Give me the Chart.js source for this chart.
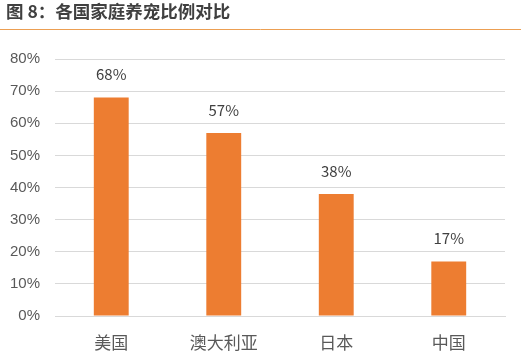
<!DOCTYPE html>
<html><head><meta charset="utf-8">
<script src="https://cdn.jsdelivr.net/npm/chart.js@4/dist/chart.umd.min.js"></script>
<style>html,body{margin:0;padding:0;background:#fff;}#wrap{width:529px;height:355px;position:relative;}</style>
</head><body><div id="wrap"><canvas id="c" width="529" height="355"></canvas></div>
<script>
const titleText = "图 8：各国家庭养宠比例对比";
const categories = ["美国", "澳大利亚", "日本", "中国"];
const values = [68, 57, 38, 17];
const tickMax = 80;
const tickStep = 10;

const FONT = '"Noto Sans CJK SC", "Liberation Sans", sans-serif';

const decor = {
  id: 'decor',
  beforeDraw(chart) {
    const ctx = chart.ctx;
    ctx.save();
    ctx.fillStyle = '#fff';
    ctx.fillRect(0, 0, chart.width, chart.height);
    ctx.fillStyle = '#404040';
    ctx.font = 'bold 17.5px ' + FONT;
    ctx.textBaseline = 'middle';
    ctx.textAlign = 'left';
    ctx.fillText(titleText, 6, 11);
    ctx.strokeStyle = '#EC9F52';
    ctx.lineWidth = 1;
    ctx.beginPath();
    ctx.moveTo(0, 29.5);
    ctx.lineTo(521, 29.5);
    ctx.stroke();
    ctx.restore();
  },
  afterDatasetsDraw(chart) {
    const ctx = chart.ctx;
    const meta = chart.getDatasetMeta(0);
    ctx.save();
    ctx.fillStyle = '#404040';
    ctx.font = '15px ' + FONT;
    ctx.textAlign = 'center';
    ctx.textBaseline = 'middle';
    meta.data.forEach((bar, i) => {
      ctx.fillText(chart.data.datasets[0].data[i] + '%', bar.x, bar.y - 23);
    });
    ctx.restore();
  }
};

new Chart(document.getElementById('c'), {
  type: 'bar',
  data: {
    labels: categories,
    datasets: [{
      data: values,
      backgroundColor: '#ED7D31',
      categoryPercentage: 1,
      barPercentage: 0.31
    }]
  },
  options: {
    responsive: false,
    animation: false,
    devicePixelRatio: 1,
    layout: { padding: { top: 59, right: 24, bottom: 0, left: 0 } },
    plugins: { legend: { display: false }, tooltip: { enabled: false } },
    scales: {
      x: {
        grid: { display: false },
        border: { display: true, color: '#d9d9d9', width: 1 },
        ticks: { color: '#595959', font: { family: FONT, size: 17 }, padding: 8 },
        afterFit(s) { s.height = 39; }
      },
      y: {
        min: 0, max: tickMax,
        grid: { color: '#d9d9d9', drawTicks: false, lineWidth: 1 },
        border: { display: false },
        ticks: {
          stepSize: tickStep,
          color: '#595959',
          font: { family: '"Liberation Sans", sans-serif', size: 15 },
          padding: 15,
          callback: v => v + '%'
        },
        afterFit(s) { s.width = 55; }
      }
    }
  },
  plugins: [decor]
});
</script></body></html>
